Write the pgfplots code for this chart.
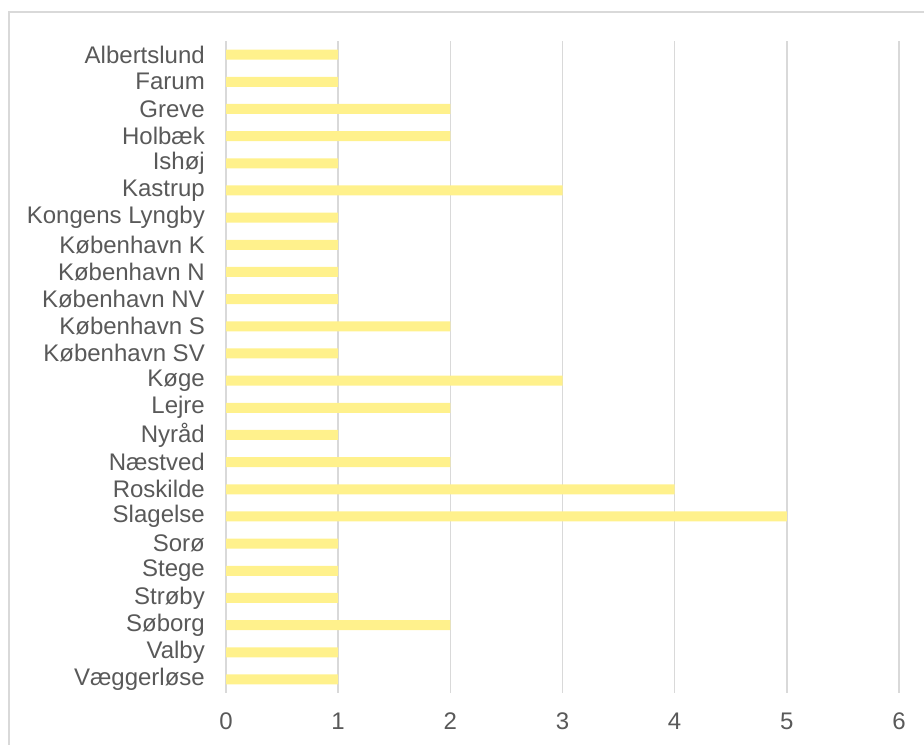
\documentclass[border=0pt]{standalone}
\usepackage{fontspec}
\setmainfont{Liberation Sans}
\usepackage{pgfplots}
\pgfplotsset{compat=1.18}
\definecolor{txt}{HTML}{595959}
\definecolor{grd}{HTML}{D9D9D9}
\definecolor{barc}{HTML}{FFF18C}
\begin{document}
\begin{tikzpicture}
\useasboundingbox (0,0) rectangle (924bp,745bp);
% chart frame (cropped at right and bottom)
\draw[grd, line width=1.5bp] (9bp,-20bp) -- (9bp,733bp) -- (960bp,733bp);
\begin{axis}[
  at={(226bp,52bp)}, anchor=south west,
  scale only axis, width=673bp, height=652bp,
  xmin=0, xmax=6, ymin=-0.5, ymax=23.5,
  y dir=reverse,
  xbar, bar width=10bp,
  axis line style={draw=none},
  xmajorgrids, grid style={grd, line width=1.6bp},
  major tick length=0pt,
  xtick={0,1,...,6},
  ytick={0,1,...,23},
  yticklabels={Albertslund,Farum,Greve,Holbæk,Ishøj,Kastrup,Kongens Lyngby,København K,København N,København NV,København S,København SV,Køge,Lejre,Nyråd,Næstved,Roskilde,Slagelse,Sorø,Stege,Strøby,Søborg,Valby,Væggerløse},
  tick label style={font=\fontsize{24bp}{28bp}\selectfont, text=txt, inner sep=0pt},
  /pgf/number format/assume math mode=true,
  yticklabel shift=21bp,
  xticklabel shift=20bp,
]
\addplot[fill=barc, draw=none] coordinates {
(1,0) (1,1) (2,2) (2,3) (1,4) (3,5) (1,6) (1,7) (1,8) (1,9) (2,10) (1,11)
(3,12) (2,13) (1,14) (2,15) (4,16) (5,17) (1,18) (1,19) (1,20) (2,21) (1,22) (1,23)};
\end{axis}
\end{tikzpicture}
\end{document}
